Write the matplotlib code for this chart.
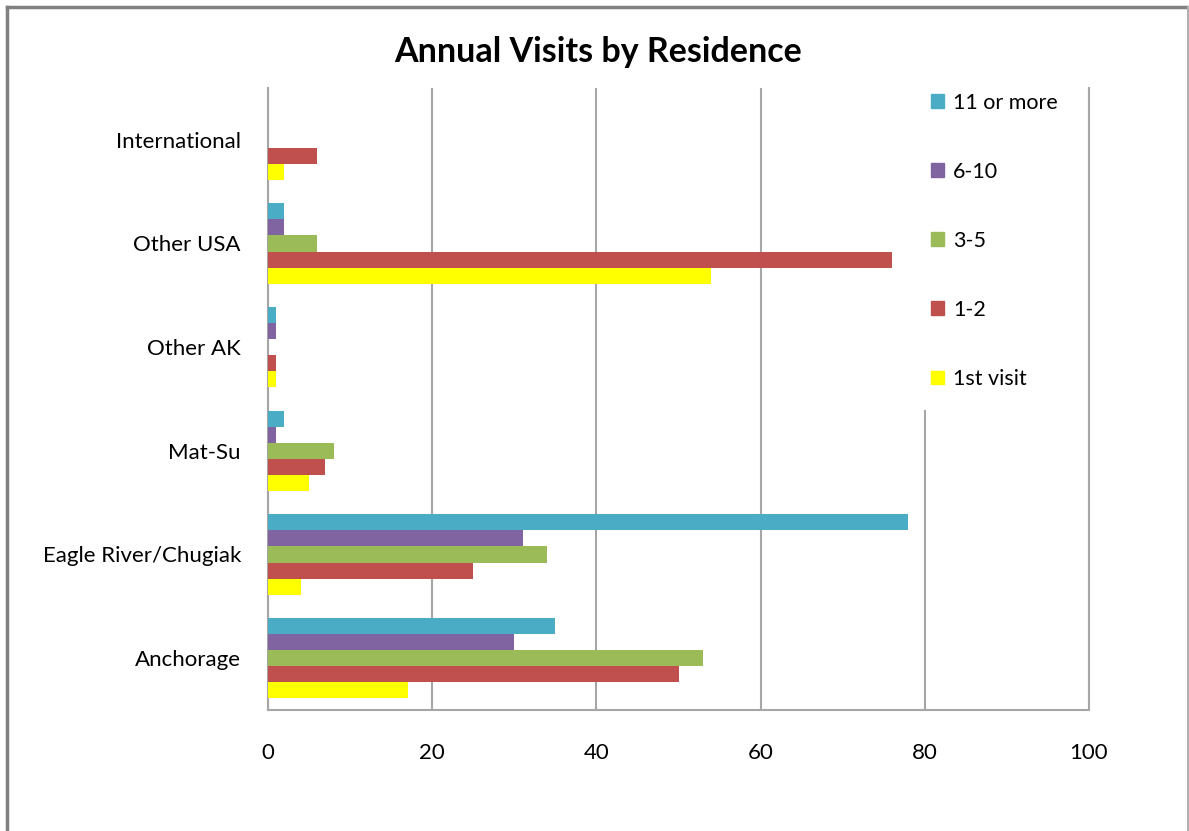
import matplotlib.pyplot as plt
import numpy as np
from matplotlib.patches import Rectangle
from matplotlib.lines import Line2D

# categories bottom to top
places = ['Anchorage', 'Eagle River/Chugiak', 'Mat-Su', 'Other AK', 'Other USA', 'International']

# series, drawn bottom to top inside each group
first_visit = [17, 4, 5, 1, 54, 2]
one_two = [50, 25, 7, 1, 76, 6]
three_five = [53, 34, 8, 0, 6, 0]
six_ten = [30, 31, 1, 1, 2, 0]
eleven_plus = [35, 78, 2, 1, 2, 0]

series = [first_visit, one_two, three_five, six_ten, eleven_plus]
names = ['1st visit', '1-2', '3-5', '6-10', '11 or more']
colors = ['#FFFF00', '#C0504D', '#9BBB59', '#8064A2', '#4BACC6']

xticks = [0, 20, 40, 60, 80, 100]

plt.rcParams['font.family'] = ['Lato', 'DejaVu Sans']

fig = plt.figure(figsize=(11.89, 8.31), dpi=100)

# outer frame like the chart area border
fig.add_artist(Line2D([7 / 1189, 1.0], [1 - 7 / 831, 1 - 7 / 831], color='#808080', lw=2.5, transform=fig.transFigure))
fig.add_artist(Line2D([7 / 1189, 7 / 1189], [0, 1 - 7 / 831], color='#808080', lw=2.5, transform=fig.transFigure))
fig.add_artist(Line2D([1187.5 / 1189, 1187.5 / 1189], [0, 1 - 7 / 831], color='#b0b0b0', lw=1.5, transform=fig.transFigure))

ax = fig.add_axes([268 / 1189, 1 - 710 / 831, (1089 - 268) / 1189, (710 - 88) / 831])

y = np.arange(len(places))
h = 0.155
for i, (vals, c) in enumerate(zip(series, colors)):
    ax.barh(y + (i - 2) * h, vals, height=h, color=c, edgecolor='none', zorder=3)

ax.set_xlim(0, 100)
ax.set_ylim(-0.5, len(places) - 0.5)
ax.set_xticks(xticks)
ax.set_xticklabels([str(t) for t in xticks], fontsize=16)
ax.set_yticks(y)
ax.set_yticklabels(places, fontsize=16)
ax.tick_params(axis='x', length=0, pad=24)
ax.tick_params(axis='y', length=0, pad=19.5)

ax.grid(axis='x', color='#a6a6a6', lw=1.5, zorder=0)
ax.spines['top'].set_visible(False)
for s in ['left', 'bottom', 'right']:
    ax.spines[s].set_color('#a6a6a6')
    ax.spines[s].set_linewidth(1.5)

# legend box hides the grid in the upper right
ax.add_patch(Rectangle((79.5, 2.39), 20.0, 3.2, transform=ax.transData, facecolor='white', edgecolor='none', zorder=2, clip_on=False))

handles = [Rectangle((0, 0), 1, 1, color=c) for c in colors[::-1]]
leg = ax.legend(handles, names[::-1], loc='upper left', bbox_to_anchor=(922 / 1189, 1 - 84 / 831),
                bbox_transform=fig.transFigure, frameon=False, fontsize=15.5,
                handlelength=0.6, handleheight=0.6, handletextpad=0.45, labelspacing=2.28,
                borderaxespad=0)
leg.set_zorder(5)

fig.text(598 / 1189, 1 - 52 / 831, 'Annual Visits by Residence', ha='center', va='center',
         fontsize=24.5, fontweight='bold')

fig.savefig('out.png', dpi=100)
